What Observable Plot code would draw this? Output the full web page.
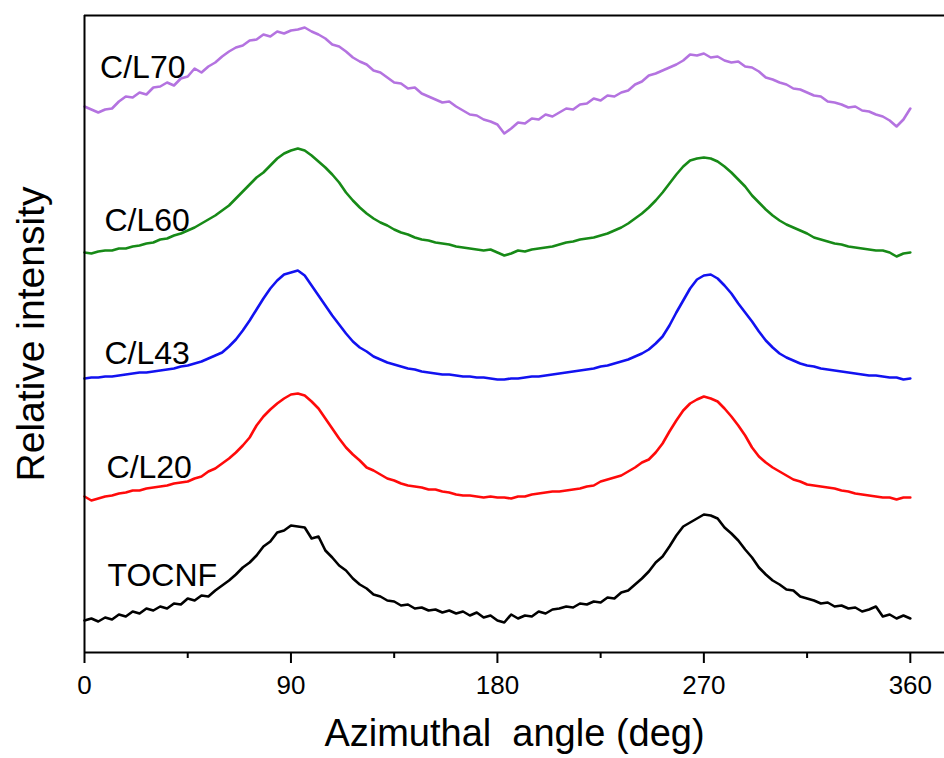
<!DOCTYPE html>
<html>
<head>
<meta charset="utf-8">
<script src="https://cdn.jsdelivr.net/npm/d3@7"></script>
<script src="https://cdn.jsdelivr.net/npm/@observablehq/plot@0.6"></script>
<style>
  html, body { margin: 0; padding: 0; background: #fff; }
  #chart { width: 944px; height: 758px; }
</style>
</head>
<body>
<div id="chart"></div>
<script>
// Azimuthal angle grid (deg), one reading every 3 degrees
const angles = d3.range(0, 361, 3);

// Relative intensity (a.u., curves stacked with offsets)
const cl70 = [54.6,54.3,54.0,54.3,54.4,55.1,55.6,55.5,56.0,55.8,56.5,56.6,57.0,56.7,57.4,57.6,58.4,58.0,58.6,59.0,59.6,60.1,60.5,60.7,61.2,61.3,61.8,61.6,62.1,61.9,62.2,62.3,62.5,62.1,61.8,61.4,60.8,60.6,60.1,59.5,59.1,58.8,58.2,58.0,57.5,57.0,56.9,56.4,56.5,55.9,55.6,55.3,55.0,55.1,54.6,54.2,53.8,53.7,53.3,53.1,52.8,51.9,52.4,53.0,52.9,53.4,53.3,53.8,53.6,54.0,54.4,54.3,54.8,54.9,55.4,55.2,55.7,55.6,56.0,56.2,56.8,57.1,57.7,57.9,58.2,58.5,58.8,59.2,59.8,59.7,59.9,59.5,59.6,59.2,59.0,59.1,58.6,58.5,58.1,57.5,57.3,57.0,56.8,56.4,56.3,56.0,55.7,55.6,55.1,55.0,54.8,54.5,54.6,54.2,54.1,53.8,53.6,53.2,52.6,53.3,54.4];
const cl60 = [40.0,39.9,40.1,40.2,40.2,40.4,40.4,40.6,40.7,40.9,41.0,41.3,41.4,41.7,41.9,42.2,42.5,42.9,43.3,43.7,44.2,44.7,45.4,46.1,46.8,47.5,48.0,48.7,49.4,49.9,50.2,50.4,50.2,49.7,49.1,48.5,47.8,47.0,46.0,45.2,44.5,43.9,43.4,43.0,42.7,42.3,42.0,41.8,41.5,41.3,41.2,41.0,40.9,40.8,40.6,40.5,40.4,40.3,40.2,40.3,40.0,39.7,39.9,40.2,40.1,40.3,40.4,40.5,40.6,40.8,41.0,41.1,41.3,41.4,41.5,41.7,41.9,42.2,42.5,42.9,43.4,43.9,44.5,45.2,46.0,46.9,47.8,48.6,49.2,49.4,49.5,49.4,49.1,48.6,48.0,47.3,46.6,45.7,45.0,44.3,43.7,43.2,42.8,42.5,42.2,41.9,41.5,41.3,41.1,40.9,40.8,40.6,40.5,40.4,40.3,40.2,40.2,40.0,39.6,39.9,40.0];
const cl43 = [27.4,27.5,27.5,27.6,27.6,27.7,27.8,27.9,28.0,28.0,28.1,28.2,28.3,28.4,28.6,28.7,28.9,29.1,29.4,29.7,30.0,30.6,31.3,32.2,33.2,34.3,35.4,36.4,37.2,37.8,38.0,38.2,37.7,36.7,35.7,34.7,33.7,32.8,31.9,31.1,30.5,30.1,29.6,29.3,29.0,28.8,28.6,28.4,28.3,28.1,28.0,27.9,27.8,27.8,27.7,27.6,27.6,27.5,27.5,27.4,27.3,27.3,27.4,27.4,27.5,27.6,27.6,27.7,27.8,27.9,28.0,28.1,28.2,28.3,28.4,28.6,28.7,28.9,29.1,29.3,29.6,29.9,30.3,30.9,31.6,32.7,34.0,35.2,36.4,37.3,37.7,37.8,37.4,36.7,35.9,34.9,34.0,33.1,32.1,31.2,30.5,29.9,29.5,29.2,28.9,28.7,28.6,28.4,28.3,28.2,28.1,28.0,27.9,27.8,27.7,27.7,27.6,27.5,27.5,27.3,27.4];
const cl20 = [15.6,15.2,15.4,15.6,15.7,15.9,16.0,16.2,16.2,16.4,16.5,16.6,16.7,16.9,17.0,17.1,17.4,17.6,18.1,18.4,18.9,19.4,20.0,20.7,21.5,22.7,23.6,24.3,24.9,25.4,25.8,25.9,25.7,25.1,24.4,23.4,22.4,21.4,20.5,19.8,19.2,18.5,18.2,17.8,17.4,17.2,16.9,16.7,16.6,16.5,16.3,16.3,16.1,16.0,15.8,15.7,15.7,15.6,15.5,15.6,15.5,15.5,15.4,15.6,15.6,15.8,15.9,16.0,16.1,16.1,16.2,16.3,16.4,16.6,16.7,17.1,17.3,17.5,17.7,18.1,18.5,19.0,19.3,20.0,20.9,22.1,23.2,24.2,24.9,25.3,25.6,25.4,25.1,24.4,23.6,22.7,21.7,20.5,19.6,19.0,18.5,18.1,17.7,17.3,17.1,16.8,16.7,16.6,16.5,16.4,16.2,16.1,15.9,15.8,15.7,15.6,15.5,15.5,15.3,15.5,15.5];
const tocnf = [3.2,3.4,3.1,3.5,3.3,3.8,3.6,4.1,3.9,4.4,4.2,4.6,4.4,4.9,4.8,5.4,5.2,5.7,5.6,6.2,6.7,7.2,7.8,8.5,9.0,9.7,10.6,11.1,12.0,12.2,12.7,12.6,12.5,11.4,11.6,10.2,9.5,8.7,8.2,7.4,6.8,6.4,5.8,5.6,5.2,5.1,4.7,4.8,4.4,4.5,4.2,4.3,4.0,4.2,3.9,4.1,3.7,4.0,3.5,3.7,3.2,3.0,3.8,3.4,3.7,3.6,4.1,3.9,4.3,4.4,4.6,4.5,4.9,4.8,5.1,5.0,5.5,5.4,6.0,6.2,6.8,7.4,8.1,9.0,9.6,10.6,11.7,12.6,13.0,13.4,13.8,13.7,13.4,12.5,11.9,11.2,10.3,9.5,8.5,7.8,7.2,6.8,6.3,6.2,5.6,5.4,5.2,4.9,5.0,4.6,4.7,4.4,4.5,4.1,4.3,4.6,3.6,3.8,3.4,3.7,3.4];

const seriesNames = ["C/L70", "C/L60", "C/L43", "C/L20", "TOCNF"];
const seriesValues = [cl70, cl60, cl43, cl20, tocnf];
const seriesColors = ["#b473e0", "#178a17", "#1212f0", "#ff0a0a", "#000000"];
const labelAngle = [6.8, 8.7, 8.7, 9.6, 10.0];
const labelIntensity = [57.5, 42.2, 28.9, 17.5, 6.7];

const xTicks = [0, 90, 180, 270, 360];
const xMinorTicks = [45, 135, 225, 315];
const xLabel = "Azimuthal  angle (deg)";
const yLabel = "Relative intensity";

const rows = [];
seriesNames.forEach((name, i) => {
  angles.forEach((a, j) => rows.push({series: name, angle: a, value: seriesValues[i][j]}));
});
const labels = seriesNames.map((name, i) => ({series: name, angle: labelAngle[i], value: labelIntensity[i]}));

const sans = "'Liberation Sans', Arial, Helvetica, sans-serif";
const narrow = "'Liberation Sans Narrow', 'Arial Narrow', 'Liberation Sans', Arial, sans-serif";

const chart = Plot.plot({
  width: 944,
  height: 758,
  marginLeft: 84,
  marginRight: 0,
  marginTop: 15,
  marginBottom: 106,
  style: {fontFamily: sans, background: "#fff", color: "#000"},
  x: {domain: [0, 374.9]},
  y: {domain: [0, 63.7], axis: null},
  color: {domain: seriesNames, range: seriesColors},
  marks: [
    Plot.line(rows, {x: "angle", y: "value", z: "series", stroke: "series", strokeWidth: 2.6, strokeLinejoin: "round"}),
    Plot.text(labels, {x: "angle", y: "value", text: "series", textAnchor: "start", lineAnchor: "bottom", fontSize: 32, fill: "#000"}),
    Plot.ruleY([63.7], {stroke: "#000", strokeWidth: 2}),
    Plot.ruleY([0], {stroke: "#000", strokeWidth: 2}),
    Plot.ruleX([0], {stroke: "#000", strokeWidth: 2}),
    Plot.axisX({ticks: xTicks, tickSize: 11, tickPadding: 12, strokeWidth: 2, fontSize: 26, fontFamily: narrow, label: null}),
    Plot.axisX({ticks: xMinorTicks, tickSize: 6, strokeWidth: 2, tickFormat: () => "", label: null}),
    Plot.text([xLabel], {frameAnchor: "bottom", dy: 93, fontSize: 38, fill: "#000"}),
    Plot.text([yLabel], {frameAnchor: "left", textAnchor: "middle", dx: -53, rotate: -90, fontSize: 39, fill: "#000"})
  ]
});
document.getElementById("chart").appendChild(chart);
</script>
</body>
</html>
